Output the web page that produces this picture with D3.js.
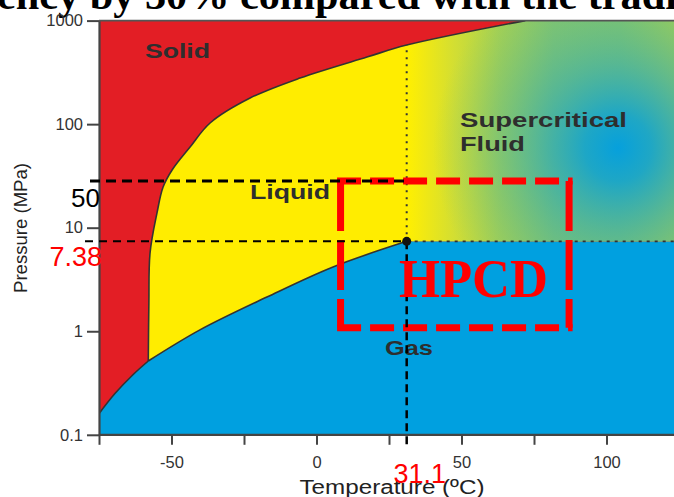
<!DOCTYPE html>
<html>
<head>
<meta charset="utf-8">
<script src="https://cdn.jsdelivr.net/npm/d3@7"></script>
<style>
  body { margin: 0; background: #fff; }
  svg { display: block; }
</style>
</head>
<body>
<svg id="chart" width="674" height="497"></svg>
<script>
// CO2 phase boundaries, [temperature degC, pressure MPa]
const sublimation = [[-75, 0.16], [-69.5, 0.25], [-63.3, 0.38], [-58, 0.516]];
const vaporization = [[-58, 0.516], [-40.2, 1.03], [-17.1, 2.14], [5.7, 4.18], [31.1, 7.38]];
const melting = [[-58, 0.516], [-57.8, 1.87], [-57.4, 5.7], [-55, 13.9], [-52.9, 24.7], [-49.8, 36.1],
  [-43.6, 60.1], [-36.7, 102.6], [-22.9, 178.6], [-5.7, 278.6], [17.4, 444.6], [31.1, 580],
  [72, 1000]];
const critical = [31.1, 7.38];

// marked pressures on the left and their labels
const pressureMarks = [28.3, 7.38];
const pressureMarkText = ["50", "7.38"];
const tempMark = 31.1;
const tempMarkText = "31.1";

// HPCD box
const hpcdT = [8.3, 87.1];
const hpcdP = [1.08, 28.3];

const xTicks = [-75, -50, -25, 0, 25, 50, 75, 100];
const xTickLabels = [-50, 0, 50, 100];
const yTicks = [0.1, 1, 10, 100, 1000];
const yTickLabels = ["0.1", "1", "10", "100", "1000"];

const W = 674, H = 497;
const svg = d3.select("#chart");

const x = d3.scaleLinear().domain([-75, 125]).range([99, 679]);
const y = d3.scaleLog().domain([0.1, 1000]).range([434.8, 20.6]);

const xl = x.domain()[0], xr = x.domain()[1];
const pTop = 1000, pBot = 0.1;

const curve = d3.line()
  .x(d => x(d[0]))
  .y(d => y(d[1]))
  .curve(d3.curveCatmullRom.alpha(0.5));
const seg = pts => curve(pts).replace(/^M/, "L");
const pt = (t, p) => "L" + x(t) + "," + y(p);

const defs = svg.append("defs");
defs.append("clipPath").attr("id", "plot")
  .append("rect")
  .attr("x", x(xl)).attr("y", y(pTop))
  .attr("width", W - x(xl)).attr("height", y(pBot) - y(pTop));

// liquid + supercritical side of the melting line
const liquidPath = "M" + x(melting[0][0]) + "," + y(melting[0][1]) + seg(melting) +
  pt(xr, pTop) + pt(xr, critical[1]) + pt(critical[0], critical[1]) +
  seg(vaporization.slice().reverse()) + "Z";
defs.append("clipPath").attr("id", "liq").append("path").attr("d", liquidPath);

const lin = defs.append("linearGradient").attr("id", "scf")
  .attr("gradientUnits", "userSpaceOnUse")
  .attr("x1", x(critical[0])).attr("x2", W).attr("y1", 0).attr("y2", 0);
[[0, "#fff000"], [0.06, "#f2e912"], [0.18, "#d2de33"], [0.35, "#a6d152"],
 [0.55, "#88c76a"], [0.8, "#8ac866"], [1, "#a4cf52"]]
  .forEach(s => lin.append("stop").attr("offset", s[0]).attr("stop-color", s[1]));

const rad = defs.append("radialGradient").attr("id", "scfBlue")
  .attr("gradientUnits", "userSpaceOnUse")
  .attr("cx", 618).attr("cy", 148).attr("r", 185);
[[0, "#06a0dc", 1], [0.18, "#12a3d0", 0.9], [0.45, "#34acb2", 0.6], [0.75, "#54b694", 0.28], [1, "#6cbf80", 0]]
  .forEach(s => rad.append("stop").attr("offset", s[0])
    .attr("stop-color", s[1]).attr("stop-opacity", s[2]));

const g = svg.append("g").attr("clip-path", "url(#plot)");

// gas everywhere, then solid above gas, then liquid/supercritical
g.append("rect")
  .attr("x", x(xl)).attr("y", y(pTop))
  .attr("width", W - x(xl)).attr("height", y(pBot) - y(pTop))
  .attr("fill", "#00a0e0");

g.append("path")
  .attr("d", "M" + x(xl) + "," + y(pTop) + pt(xl, sublimation[0][1]) + seg(sublimation) +
    seg(vaporization) + pt(xr, critical[1]) + pt(xr, pTop) + "Z")
  .attr("fill", "#e31e25");

g.append("path").attr("d", liquidPath).attr("fill", "#ffed00");

const scf = g.append("g").attr("clip-path", "url(#liq)");
scf.append("rect")
  .attr("x", x(critical[0])).attr("y", y(pTop))
  .attr("width", W - x(critical[0])).attr("height", y(critical[1]) - y(pTop))
  .attr("fill", "url(#scf)");
scf.append("rect")
  .attr("x", x(critical[0])).attr("y", y(pTop))
  .attr("width", W - x(critical[0])).attr("height", y(critical[1]) - y(pTop))
  .attr("fill", "url(#scfBlue)");

// boundary lines
[sublimation, vaporization, melting].forEach(b => {
  g.append("path").attr("d", curve(b))
    .attr("fill", "none").attr("stroke", "#333").attr("stroke-width", 1.6);
});

// dotted lines from the critical point
g.append("line")
  .attr("x1", x(critical[0])).attr("x2", W)
  .attr("y1", y(critical[1])).attr("y2", y(critical[1]))
  .attr("stroke", "#333").attr("stroke-width", 1.6).attr("stroke-dasharray", "3,5");
g.append("line")
  .attr("x1", x(critical[0])).attr("x2", x(critical[0]))
  .attr("y1", y(critical[1])).attr("y2", y(580))
  .attr("stroke", "#333").attr("stroke-width", 2).attr("stroke-dasharray", "2,5");

// title, cut off at the top
svg.append("text")
  .attr("x", -3).attr("y", 9)
  .attr("font-family", "Liberation Serif, Times New Roman, serif")
  .attr("font-weight", "bold").attr("font-size", 39)
  .attr("textLength", 680).attr("lengthAdjust", "spacingAndGlyphs")
  .text("ency by 30% compared with the tradi");

// axes
const xAxis = svg.append("g")
  .attr("transform", "translate(0," + y(pBot) + ")")
  .call(d3.axisBottom(x).tickValues(xTicks).tickSize(10).tickSizeOuter(0).tickPadding(11)
    .tickFormat(d => xTickLabels.includes(d) ? String(d) : ""));
const yAxis = svg.append("g")
  .attr("transform", "translate(" + x(xl) + ",0)")
  .call(d3.axisLeft(y).tickValues(yTicks).tickSize(12).tickSizeOuter(0).tickPadding(4)
    .tickFormat((d, i) => yTickLabels[i]));
[xAxis, yAxis].forEach(a => {
  a.select(".domain").attr("stroke", "#444").attr("stroke-width", 2.2);
  a.selectAll(".tick line").attr("stroke", "#444").attr("stroke-width", 2);
  a.selectAll(".tick text").attr("fill", "#333")
    .attr("font-family", "Liberation Sans, Arial, sans-serif").attr("font-size", 16.5);
});
xAxis.select(".domain").attr("d", "M" + x(xl) + ",0H" + W);
svg.append("line")
  .attr("x1", x(xl)).attr("x2", W).attr("y1", y(pTop)).attr("y2", y(pTop))
  .attr("stroke", "#555").attr("stroke-width", 1.6);

svg.append("text")
  .attr("x", 392).attr("y", 494).attr("text-anchor", "middle")
  .attr("font-family", "Liberation Sans, Arial, sans-serif").attr("font-size", 20)
  .attr("fill", "#222").attr("textLength", 185).attr("lengthAdjust", "spacingAndGlyphs")
  .text("Temperature (ºC)");
svg.append("text")
  .attr("transform", "translate(27,228) rotate(-90)").attr("text-anchor", "middle")
  .attr("font-family", "Liberation Sans, Arial, sans-serif").attr("font-size", 18)
  .attr("fill", "#222").attr("textLength", 130).attr("lengthAdjust", "spacingAndGlyphs")
  .text("Pressure (MPa)");

// phase labels
const phase = (t, px, py, len) => svg.append("text")
  .attr("x", px).attr("y", py)
  .attr("font-family", "Liberation Sans, Arial, sans-serif").attr("font-weight", "bold")
  .attr("font-size", 20).attr("fill", "#2e2e2e")
  .attr("textLength", len).attr("lengthAdjust", "spacingAndGlyphs")
  .text(t);
phase("Solid", 145, 58, 65);
phase("Liquid", 250, 199, 80);
phase("Supercritical", 460, 127, 167);
phase("Fluid", 460, 151, 65);
phase("Gas", 385, 355, 48);

// HPCD box
const red = "#ff0000";
const bx0 = x(hpcdT[0]), bx1 = x(hpcdT[1]), by0 = y(hpcdP[1]), by1 = y(hpcdP[0]);
const sw = 7;
[[bx0 - sw / 2, by0, bx1 + sw / 2, by0, "24,9"], [bx0 - sw / 2, by1, bx1 + sw / 2, by1, "24,9"],
 [bx0, by0, bx0, by1, "50,9"], [bx1, by0, bx1, by1, "50,9"]].forEach(l => {
  svg.append("line")
    .attr("x1", l[0]).attr("y1", l[1]).attr("x2", l[2]).attr("y2", l[3])
    .attr("stroke", red).attr("stroke-width", sw).attr("stroke-dasharray", l[4]);
});

// black dashed marker lines
svg.append("line")
  .attr("x1", 90).attr("x2", x(critical[0]))
  .attr("y1", y(pressureMarks[0])).attr("y2", y(pressureMarks[0]))
  .attr("stroke", "#000").attr("stroke-width", 3).attr("stroke-dasharray", "10,6");
svg.append("line")
  .attr("x1", 85).attr("x2", x(critical[0]))
  .attr("y1", y(pressureMarks[1])).attr("y2", y(pressureMarks[1]))
  .attr("stroke", "#000").attr("stroke-width", 2).attr("stroke-dasharray", "8,6");
svg.append("line")
  .attr("x1", x(tempMark)).attr("x2", x(tempMark))
  .attr("y1", y(critical[1])).attr("y2", y(pBot) + 10)
  .attr("stroke", "#000").attr("stroke-width", 2.5).attr("stroke-dasharray", "8,5");

svg.append("circle")
  .attr("cx", x(critical[0])).attr("cy", y(critical[1])).attr("r", 4.5).attr("fill", "#111");

svg.append("text")
  .attr("x", 100).attr("y", y(pressureMarks[0]) + 26).attr("text-anchor", "end")
  .attr("font-family", "Liberation Sans, Arial, sans-serif").attr("font-size", 26)
  .attr("fill", "#000").text(pressureMarkText[0]);
svg.append("text")
  .attr("x", 102).attr("y", y(pressureMarks[1]) + 25).attr("text-anchor", "end")
  .attr("font-family", "Liberation Sans, Arial, sans-serif").attr("font-size", 27)
  .attr("fill", red).text(pressureMarkText[1]);
svg.append("text")
  .attr("x", x(tempMark) + 13).attr("y", 483).attr("text-anchor", "middle")
  .attr("font-family", "Liberation Sans, Arial, sans-serif").attr("font-size", 27)
  .attr("fill", red).text(tempMarkText);

svg.append("text")
  .attr("x", 399).attr("y", 297)
  .attr("font-family", "Liberation Serif, Times New Roman, serif").attr("font-weight", "bold")
  .attr("font-size", 54).attr("fill", red)
  .attr("textLength", 149).attr("lengthAdjust", "spacingAndGlyphs")
  .text("HPCD");
</script>
</body>
</html>
